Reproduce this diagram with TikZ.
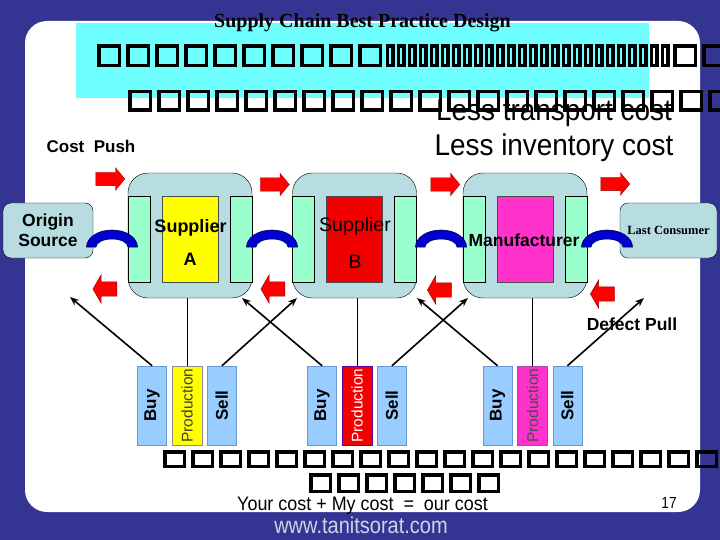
\documentclass[tikz,border=0pt]{standalone}
\usepackage{fontspec}
\setmainfont{Liberation Sans}
\newfontfamily\timesfont{Liberation Serif}
\usepackage{xcolor}
\definecolor{slideblue}{HTML}{343493}
\definecolor{panelcyan}{HTML}{70FFFF}
\definecolor{chainfill}{HTML}{B8DDE1}
\definecolor{stripfill}{HTML}{99FFCC}
\definecolor{prodyellow}{HTML}{FFFF00}
\definecolor{prodred}{HTML}{F20000}
\definecolor{prodpink}{HTML}{FF33CC}
\definecolor{bsfill}{HTML}{99CCFF}
\definecolor{bsdraw}{HTML}{6A9BD0}
\definecolor{linkblue}{HTML}{0000D0}
\definecolor{urlgray}{HTML}{D2D2E6}
\usepackage{tikz}
\usetikzlibrary{positioning,arrows.meta,shapes.arrows}
\tikzset{
  chain/.style  ={rectangle, rounded corners=20pt, draw=black, fill=chainfill,
                  minimum width=124pt, minimum height=125pt, inner sep=0pt},
  strip/.style  ={rectangle, draw=black, fill=stripfill, minimum width=22pt,
                  minimum height=86pt, inner sep=0pt},
  core/.style   ={rectangle, draw=black!70, minimum width=56pt, minimum height=86pt, inner sep=0pt},
  endbox/.style ={rectangle, rounded corners=8pt, draw=black, fill=chainfill,
                  minimum height=55pt, inner sep=0pt},
  bsbox/.style  ={rectangle, draw=bsdraw, fill=bsfill, minimum width=29pt, minimum height=79pt,
                  inner sep=0pt, font=\fontsize{17}{20}\selectfont\bfseries},
  prodbox/.style={rectangle, minimum width=30pt, minimum height=79pt, inner sep=0pt,
                  font=\fontsize{15.5}{18}\selectfont},
  pusharr/.style={single arrow, fill=red, draw=red!60!black, inner xsep=0pt, inner ysep=6.5pt,
                  minimum height=29pt, minimum width=22pt, single arrow head extend=4.5pt,
                  single arrow tip angle=101},
  pullarr/.style={single arrow, shape border rotate=180, fill=red, draw=red!60!black,
                  inner xsep=0pt, inner ysep=7pt, minimum height=24pt, minimum width=28pt,
                  single arrow head extend=7pt, single arrow tip angle=120},
  link/.style   ={fill=linkblue, draw=blue!35!black, line width=0.6pt},
  cross/.style  ={-{Stealth[length=9pt, width=7pt]}, line width=1.6pt},
  tie/.style    ={line width=0.8pt},
  txt/.style    ={inner sep=0pt, anchor=base},
  tofurow/.style={inner sep=0pt, anchor=west},
}
\newcommand{\midbold}{\fontsize{17.5}{20}\selectfont\bfseries}
\newcommand{\bignote}{\fontsize{30}{34}\selectfont}
\newcommand{\tofu}[3][2.5pt]{\kern#1{\fboxsep=0pt\fboxrule=3.5pt%
  \fbox{\rule{\dimexpr#2-7pt\relax}{0pt}\rule{0pt}{\dimexpr#3-7pt\relax}}}\kern#1}
\newcommand{\tofus}[3]{\foreach \k in {1,...,#1}{\tofu{#2}{#3}}}
\newcommand{\slimtofus}[1]{\foreach \k in {1,...,#1}{\tofu[1pt]{9pt}{23pt}}}

\begin{document}
\begin{tikzpicture}[x=1pt, y=-1pt]
  \clip (0,0) rectangle (720,540);
  \fill[slideblue] (0,0) rectangle (720,540);
  \fill[white, rounded corners=22pt] (25,21) rectangle (700,512);
  \fill[panelcyan] (76,23) rectangle (649,98);

  % heading
  \node[txt, font=\timesfont\bfseries\fontsize{20}{24}\selectfont] (title) at (362.5,28) {Supply Chain Best Practice Design};
  \node[txt, font=\bignote] (lessmove) at (554,121) {\scalebox{0.93}[1]{Less transport cost}};
  \node[txt, font=\bignote] (lessstock) at (554,156) {\scalebox{0.93}[1]{Less inventory cost}};
  \node[tofurow] (tofuA) at (94.5,56) {\tofus{10}{24pt}{23pt}\slimtofus{26}\tofus{2}{24pt}{23pt}};
  \node[tofurow] (tofuB) at (125.5,101) {\tofus{21}{24pt}{22pt}};
  \node[txt, font=\fontsize{17}{20}\selectfont\bfseries] (push) at (91,153) {Cost\ \ Push};

  % chain
  \node[endbox, minimum width=90pt] (origin) at (48,230.5) {};
  \node[txt, font=\midbold] (originA) at (48,226) {Origin};
  \node[txt, font=\midbold] (originB) at (48,247) {Source};

  \node[chain] (supA) at (190,235.5) {};
  \node[strip, anchor=west] (supAin) at ([yshift=-3.5pt]supA.west) {};
  \node[strip, anchor=east] (supAout) at ([yshift=-3.5pt]supA.east) {};
  \node[core, fill=prodyellow] (supAcore) at ([yshift=-3.5pt]supA.center) {};
  \node[txt, font=\fontsize{18}{20}\selectfont\bfseries] (supAname) at (190.5,233) {Supplier};
  \node[txt, font=\fontsize{18}{20}\selectfont\bfseries] (supAtag) at (190,265) {A};

  \node[chain] (supB) at (354.5,235.5) {};
  \node[strip, anchor=west] (supBin) at ([yshift=-3.5pt]supB.west) {};
  \node[strip, anchor=east] (supBout) at ([yshift=-3.5pt]supB.east) {};
  \node[core, fill=prodred] (supBcore) at ([yshift=-3.5pt]supB.center) {};
  \node[txt, font=\fontsize{19.5}{22}\selectfont, text=black] (supBname) at (355,232) {Supplier};
  \node[txt, font=\fontsize{19.5}{22}\selectfont, text=black] (supBtag) at (355,268) {B};

  \node[chain] (maker) at (525,235.5) {};
  \node[strip, anchor=west] (makerin) at ([yshift=-3.5pt]maker.west) {};
  \node[strip, anchor=east] (makerout) at ([yshift=-3.5pt]maker.east) {};
  \node[core, fill=prodpink] (makercore) at ([yshift=-3.5pt]maker.center) {};
  \node[txt, font=\midbold] (makername) at (524,246) {Manufacturer};

  \node[endbox, minimum width=97pt] (consumer) at (668.5,230.5) {};
  \node[txt, font=\timesfont\bfseries\fontsize{12.5}{14}\selectfont] (consumername) at (668.5,235) {Last Consumer};

  % links between the boxes
  \filldraw[link] (86.5,247) arc[start angle=180, end angle=360, x radius=25.5, y radius=17] -- (128,247) arc[start angle=360, end angle=180, x radius=16, y radius=8] -- cycle;
  \filldraw[link] (246.5,247) arc[start angle=180, end angle=360, x radius=25.5, y radius=17] -- (288,247) arc[start angle=360, end angle=180, x radius=16, y radius=8] -- cycle;
  \filldraw[link] (415.5,247) arc[start angle=180, end angle=360, x radius=25.5, y radius=17] -- (457,247) arc[start angle=360, end angle=180, x radius=16, y radius=8] -- cycle;
  \filldraw[link] (581.5,247) arc[start angle=180, end angle=360, x radius=25.5, y radius=17] -- (623,247) arc[start angle=360, end angle=180, x radius=16, y radius=8] -- cycle;

  % push and pull
  \node[pusharr] (pushA) at (107.5,179) {};
  \node[pusharr] (pushB) at (272,184.5) {};
  \node[pusharr] (pushC) at (442.5,184.5) {};
  \node[pusharr] (pushD) at (612.5,184) {};
  \node[pullarr] (pullA) at (107,289) {};
  \node[pullarr] (pullB) at (275,289) {};
  \node[pullarr] (pullC) at (441.5,290) {};
  \node[pullarr] (pullD) at (604.5,294) {};
  \node[txt, font=\midbold] (defect) at (632,330) {Defect Pull};

  % functions
  \node[prodbox, fill=prodyellow, draw=black!45, text=black!75] (prodA) at (187,405.5) {\rotatebox{90}{Production}};
  \node[bsbox, left=5pt of prodA] (buyA) {\rotatebox{90}{Buy}};
  \node[bsbox, right=5pt of prodA] (sellA) {\rotatebox{90}{Sell}};
  \node[prodbox, fill=prodred, draw=red!40!blue, text=white] (prodB) at (357,405.5) {\rotatebox{90}{Production}};
  \node[bsbox, left=5pt of prodB] (buyB) {\rotatebox{90}{Buy}};
  \node[bsbox, right=5pt of prodB] (sellB) {\rotatebox{90}{Sell}};
  \node[prodbox, fill=prodpink, draw=violet!70, text=black!70] (prodC) at (532.5,405.5) {\rotatebox{90}{Production}};
  \node[bsbox, left=5pt of prodC] (buyC) {\rotatebox{90}{Buy}};
  \node[bsbox, right=5pt of prodC] (sellC) {\rotatebox{90}{Sell}};

  \coordinate (toA) at (70,297);
  \coordinate (toB) at (297,298);
  \coordinate (toC) at (242,298);
  \coordinate (toD) at (468,298);
  \coordinate (toE) at (417,298);
  \coordinate (toF) at (644,298);
  \draw[cross] (buyA.north) -- (toA);
  \draw[cross] (sellA.north) -- (toB);
  \draw[cross] (buyB.north) -- (toC);
  \draw[cross] (sellB.north) -- (toD);
  \draw[cross] (buyC.north) -- (toE);
  \draw[cross] (sellC.north) -- (toF);
  \draw[tie] (prodA.north) -- (prodA.north |- supA.south);
  \draw[tie] (prodB.north) -- (prodB.north |- supB.south);
  \draw[tie] (prodC.north) -- (prodC.north |- maker.south);

  % footer
  \node[tofurow] (tofuC) at (160.5,459) {\tofus{21}{23pt}{18pt}};
  \node[tofurow] (tofuD) at (306.5,483) {\tofus{7}{23pt}{20pt}};
  \node[txt, font=\fontsize{19.5}{22}\selectfont] (sum) at (362.5,510) {\scalebox{0.92}[1]{Your cost + My cost\ \ =\ \ our cost}};
  \node[txt, font=\fontsize{16}{18}\selectfont] (page) at (669,508) {\scalebox{0.85}[1]{17}};
  \node[txt, font=\fontsize{23}{26}\selectfont, text=urlgray] (url) at (361,533) {\scalebox{0.87}[1]{www.tanitsorat.com}};
\end{tikzpicture}
\end{document}
